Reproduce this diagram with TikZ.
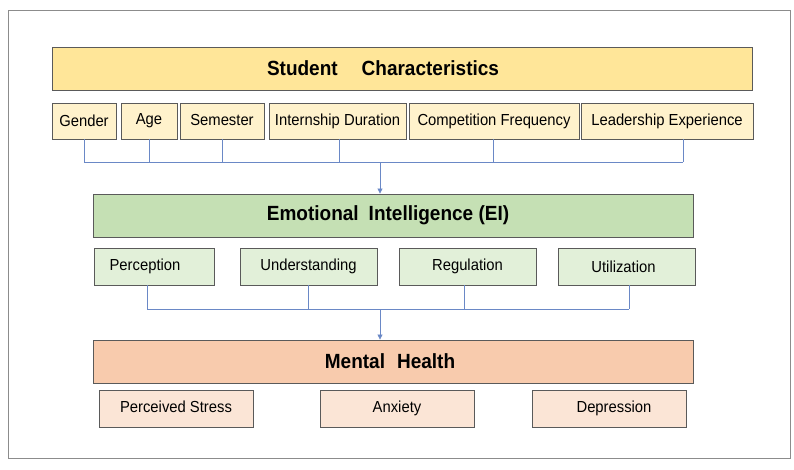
\documentclass[tikz,border=0pt]{standalone}
\usepackage{fontspec}
\usepackage{graphicx}
\setmainfont{Liberation Sans}
\usetikzlibrary{arrows.meta}
\definecolor{frame}{HTML}{8C8C8C}
\definecolor{bord}{HTML}{5A5A5A}
\definecolor{conn}{HTML}{6A88C6}
\definecolor{scmain}{HTML}{FFE699}
\definecolor{scsub}{HTML}{FFF2CC}
\definecolor{eimain}{HTML}{C5E0B4}
\definecolor{eisub}{HTML}{E2F0D9}
\definecolor{mhmain}{HTML}{F8CBAD}
\definecolor{mhsub}{HTML}{FBE5D6}
\newcommand{\tallt}[1]{\scalebox{1}[1.08]{#1}}
\tikzset{
  box/.style={draw=bord, line width=0.9pt, inner sep=0pt, anchor=center},
  mainbox/.style={box, minimum height=43pt, font=\fontsize{19}{22}\selectfont\bfseries},
  subbox/.style={box, font=\fontsize{14.8}{17}\selectfont},
  scsubbox/.style={subbox, fill=scsub, minimum height=36pt},
  eisubbox/.style={subbox, fill=eisub, minimum height=37pt, minimum width=137pt},
  mhsubbox/.style={subbox, fill=mhsub, minimum height=37pt, minimum width=154pt},
  link/.style={draw=conn, line width=0.8pt},
  arrowlink/.style={link, -{Triangle[width=5pt,length=5pt]}}
}
\begin{document}
\begin{tikzpicture}[x=1pt, y=-1pt]
\useasboundingbox (0,0) rectangle (794,469);
\draw[frame, line width=1pt] (8,10) rectangle (790,458);

% Student characteristics
\node[mainbox, fill=scmain, minimum width=700pt] (sc) at (402,68.5) {\hspace*{-38pt}\tallt{Student\hspace{24pt}Characteristics}};
\node[scsubbox, minimum width=64pt] (gender) at (84,121) {\tallt{Gender}};
\node[scsubbox, minimum width=56pt] (age) at (149,121) {\raisebox{3pt}{\tallt{Age}}};
\node[scsubbox, minimum width=84pt] (sem) at (222,121) {\raisebox{2pt}{\tallt{Semester}}};
\node[scsubbox, minimum width=137pt] (intern) at (337.5,121) {\tallt{Internship Duration}};
\node[scsubbox, minimum width=170pt] (comp) at (494,121) {\raisebox{3pt}{\tallt{Competition Frequency}}};
\node[scsubbox, minimum width=172pt] (lead) at (667,121) {\tallt{Leadership Experience}};

\coordinate (bus1) at (380,162);
\coordinate (leadx) at (683,139);
\draw[link] (gender.south) -- (gender.south |- bus1);
\draw[link] (age.south) -- (age.south |- bus1);
\draw[link] (sem.south) -- (sem.south |- bus1);
\draw[link] ([xshift=1.5pt]intern.south) -- ([xshift=1.5pt]intern.south |- bus1);
\draw[link] ([xshift=-1pt]comp.south) -- ([xshift=-1pt]comp.south |- bus1);
\draw[link] (leadx) -- (leadx |- bus1);
\draw[link] (gender.south |- bus1) -- (leadx |- bus1);

% Emotional intelligence
\node[mainbox, fill=eimain, minimum width=600pt] (ei) at (393,215.5) {\hspace*{-10pt}\tallt{Emotional\hspace{10pt}Intelligence (EI)}};
\draw[arrowlink] (bus1) -- (bus1 |- ei.north);

\node[eisubbox, minimum width=120pt] (perc) at (154,266.5) {\hspace*{-18pt}\raisebox{3pt}{\tallt{Perception}}};
\node[eisubbox] (under) at (308.5,266.5) {\raisebox{3pt}{\tallt{Understanding}}};
\node[eisubbox] (reg) at (467.5,266.5) {\tallt{Regulation}};
\node[eisubbox] (util) at (626.5,266.5) {\hspace*{-6pt}\tallt{Utilization}};

\coordinate (bus2) at (380,309);
\coordinate (percx) at (147,285);
\coordinate (regx) at (464,285);
\coordinate (utilx) at (629,285);
\draw[link] (percx) -- (percx |- bus2);
\draw[link] (under.south) -- (under.south |- bus2);
\draw[link] (regx) -- (regx |- bus2);
\draw[link] (utilx) -- (utilx |- bus2);
\draw[link] (percx |- bus2) -- (utilx |- bus2);

% Mental health
\node[mainbox, fill=mhmain, minimum width=600pt] (mh) at (393,361.5) {\hspace*{-6pt}\tallt{Mental\hspace{12pt}Health}};
\draw[arrowlink] (bus2) -- (bus2 |- mh.north);

\node[mhsubbox] (stress) at (176,408.5) {\raisebox{3pt}{\tallt{Perceived Stress}}};
\node[mhsubbox] (anx) at (397,408.5) {\tallt{Anxiety}};
\node[mhsubbox] (dep) at (609,408.5) {\hspace*{10pt}\tallt{Depression}};
\end{tikzpicture}
\end{document}
